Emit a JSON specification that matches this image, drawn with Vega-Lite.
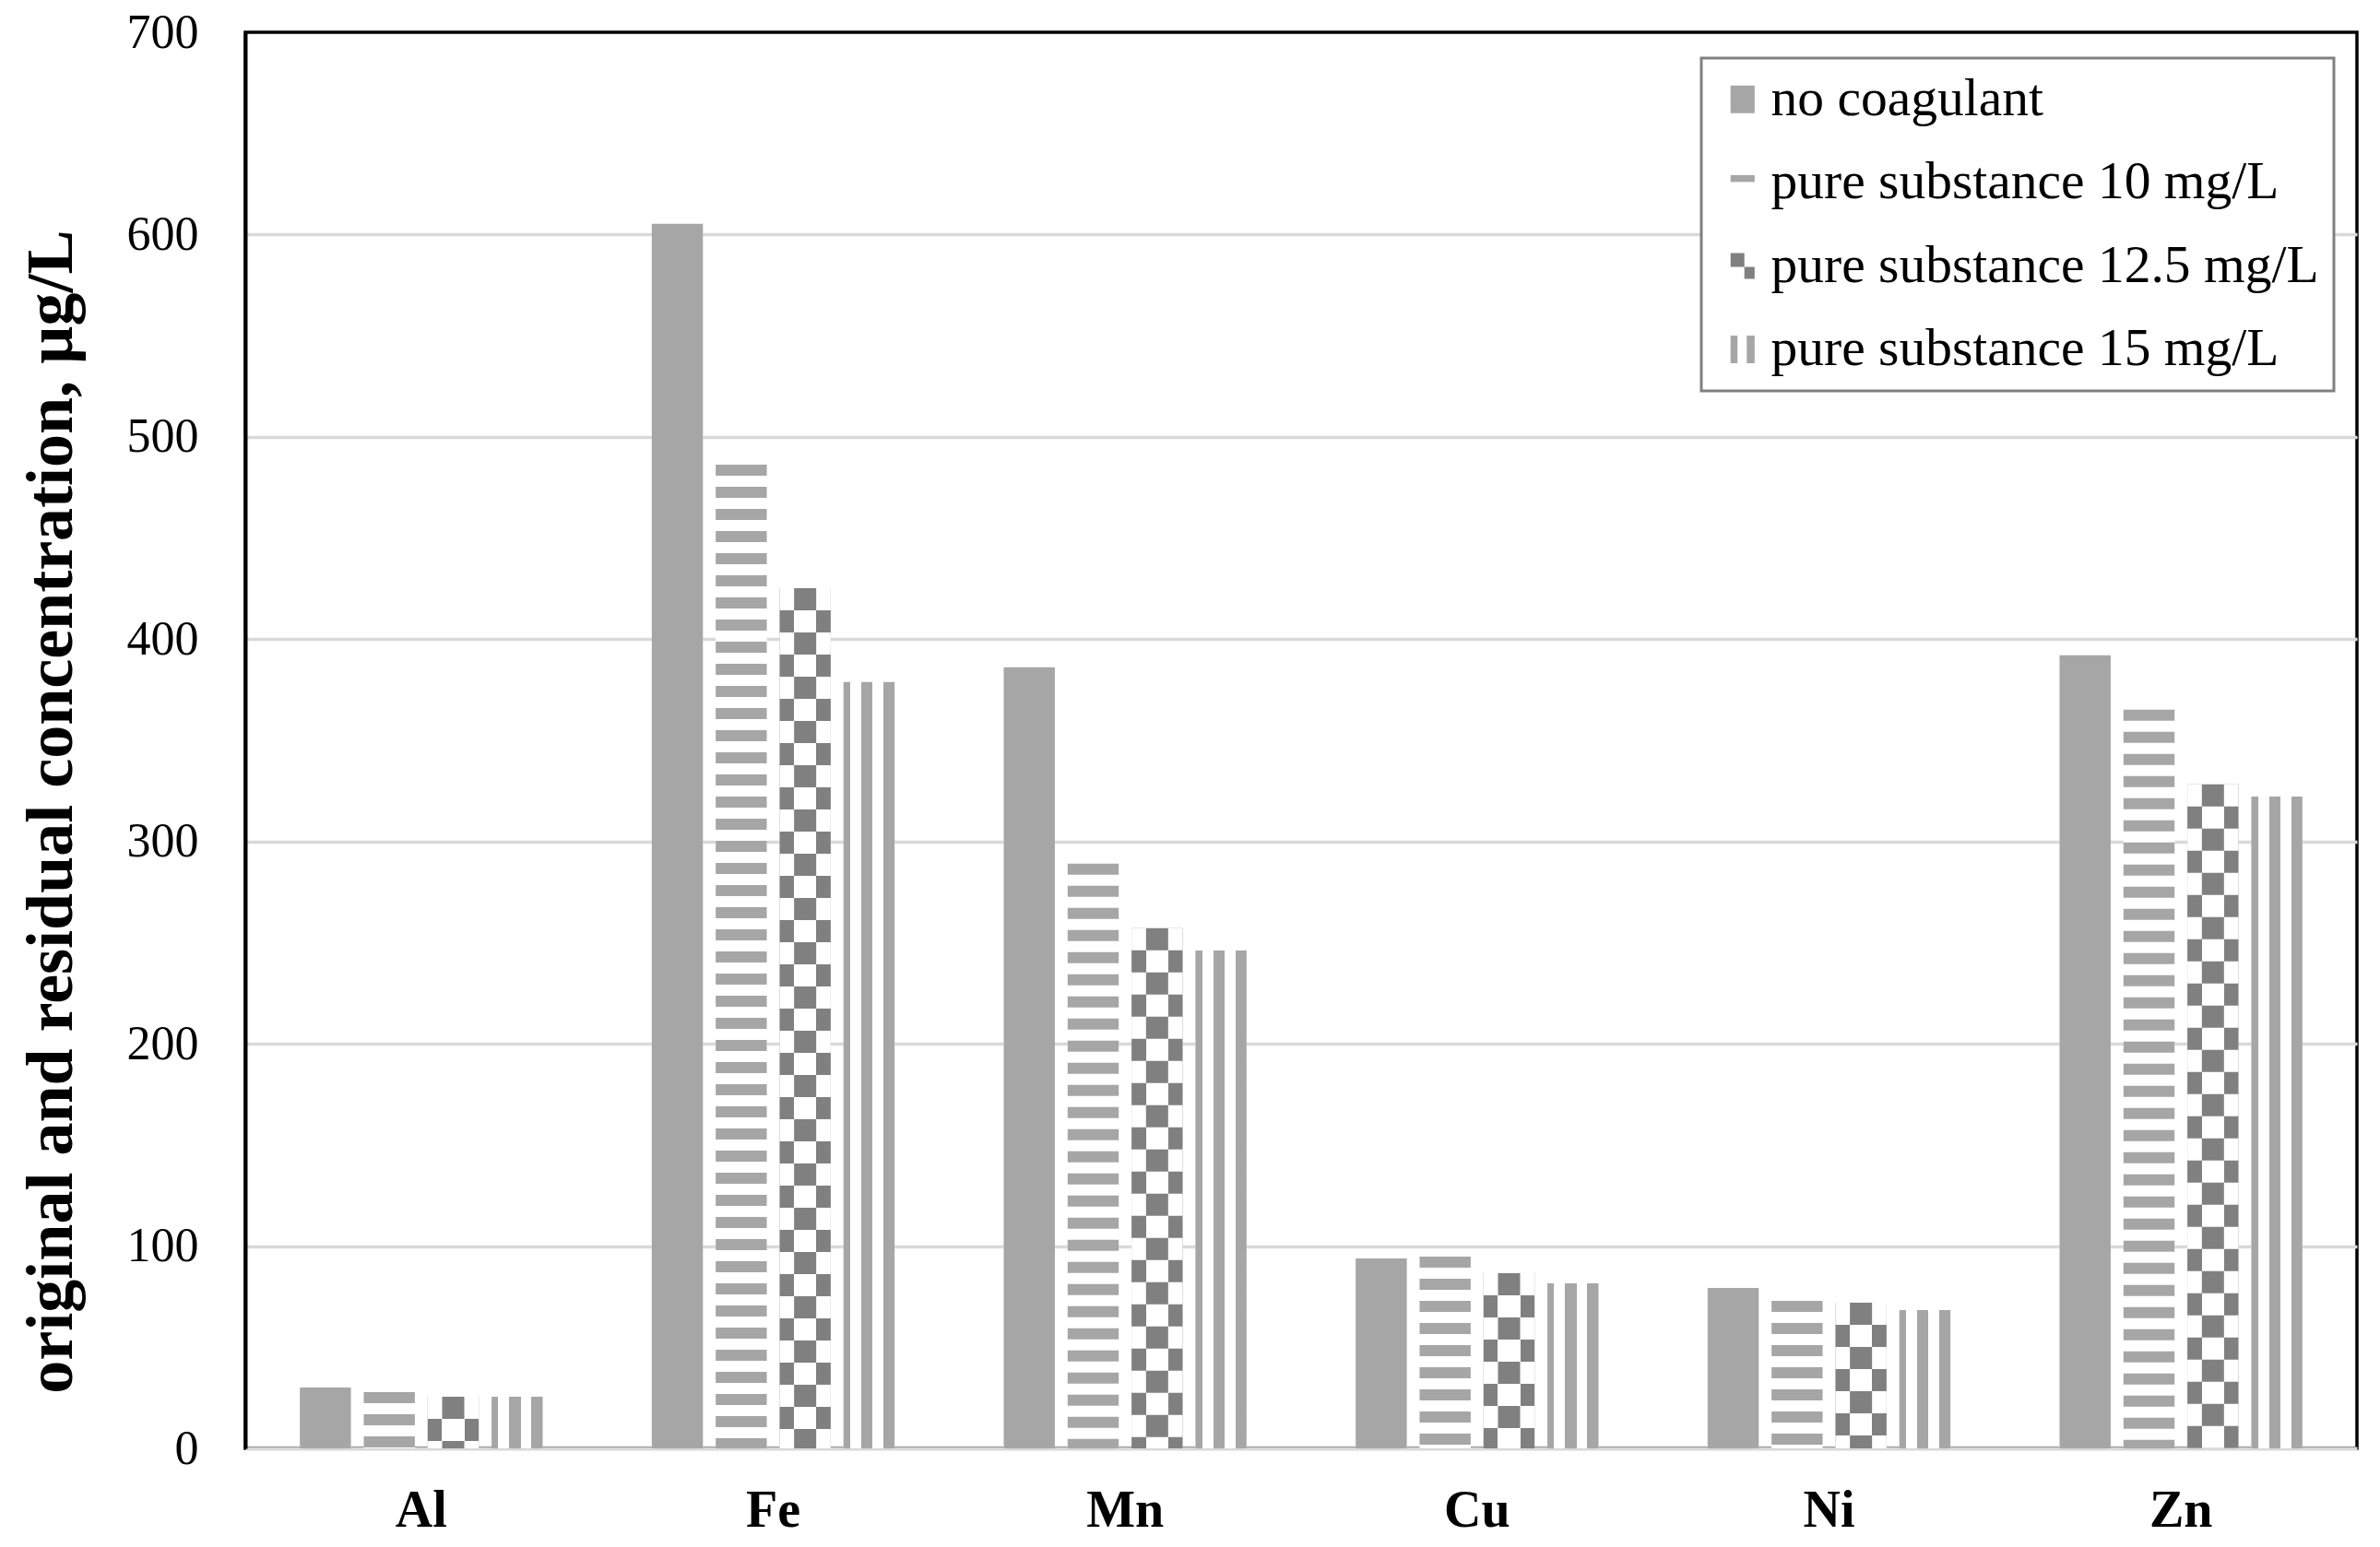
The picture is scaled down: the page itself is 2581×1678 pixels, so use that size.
{
  "$schema": "https://vega.github.io/schema/vega-lite/v6.json",
  "width": 2290,
  "height": 1536,
  "autosize": "none",
  "padding": {"left": 266, "top": 35, "right": 25, "bottom": 107},
  "background": "white",
  "config": {
    "view": {"stroke": "black", "strokeWidth": 3.5},
    "font": "Liberation Serif"
  },
  "data": {
    "values": [
      {"element": "Al", "series": "no coagulant", "value": 30.1},
      {"element": "Al", "series": "pure substance 10 mg/L", "value": 27.8},
      {"element": "Al", "series": "pure substance 12.5 mg/L", "value": 25.5},
      {"element": "Al", "series": "pure substance 15 mg/L", "value": 25.5},
      {"element": "Fe", "series": "no coagulant", "value": 605.3},
      {"element": "Fe", "series": "pure substance 10 mg/L", "value": 486.3},
      {"element": "Fe", "series": "pure substance 12.5 mg/L", "value": 425.2},
      {"element": "Fe", "series": "pure substance 15 mg/L", "value": 378.8},
      {"element": "Mn", "series": "no coagulant", "value": 386.1},
      {"element": "Mn", "series": "pure substance 10 mg/L", "value": 289},
      {"element": "Mn", "series": "pure substance 12.5 mg/L", "value": 257.1},
      {"element": "Mn", "series": "pure substance 15 mg/L", "value": 246.1},
      {"element": "Cu", "series": "no coagulant", "value": 93.9},
      {"element": "Cu", "series": "pure substance 10 mg/L", "value": 94.8},
      {"element": "Cu", "series": "pure substance 12.5 mg/L", "value": 86.6},
      {"element": "Cu", "series": "pure substance 15 mg/L", "value": 81.6},
      {"element": "Ni", "series": "no coagulant", "value": 79.3},
      {"element": "Ni", "series": "pure substance 10 mg/L", "value": 72.9},
      {"element": "Ni", "series": "pure substance 12.5 mg/L", "value": 72},
      {"element": "Ni", "series": "pure substance 15 mg/L", "value": 68.4},
      {"element": "Zn", "series": "no coagulant", "value": 392},
      {"element": "Zn", "series": "pure substance 10 mg/L", "value": 365.1},
      {"element": "Zn", "series": "pure substance 12.5 mg/L", "value": 328.2},
      {"element": "Zn", "series": "pure substance 15 mg/L", "value": 322.2}
    ]
  },
  "encoding": {
    "x": {
      "field": "element",
      "type": "nominal",
      "sort": ["Al", "Fe", "Mn", "Cu", "Ni", "Zn"],
      "scale": {"paddingInner": 0.31, "paddingOuter": 0.155},
      "axis": {
        "title": null,
        "labelAngle": 0,
        "labelFont": "Liberation Serif",
        "labelFontSize": 56,
        "labelFontWeight": "bold",
        "labelColor": "black",
        "labelPadding": 40,
        "ticks": false,
        "domainColor": "#d9d9d9",
        "domainWidth": 4
      }
    },
    "xOffset": {
      "field": "series",
      "type": "nominal",
      "scale": {
        "domain": ["no coagulant", "pure substance 10 mg/L", "pure substance 12.5 mg/L", "pure substance 15 mg/L"],
        "paddingInner": 0.2,
        "paddingOuter": 0
      }
    },
    "y": {
      "field": "value",
      "type": "quantitative",
      "scale": {"domain": [0, 700], "nice": false},
      "axis": {
        "title": "original and residual concentration, µg/L",
        "titleFont": "Liberation Serif",
        "titleFontSize": 72,
        "titleFontWeight": "bold",
        "titleColor": "black",
        "titleAngle": -90,
        "titleBaseline": "alphabetic",
        "titleAlign": "center",
        "titleX": -189,
        "titleY": 845,
        "values": [0, 100, 200, 300, 400, 500, 600, 700],
        "labelFont": "Liberation Serif",
        "labelFontSize": 52,
        "labelColor": "black",
        "labelPadding": 51,
        "ticks": false,
        "domainColor": "black",
        "domainWidth": 4,
        "gridWidth": 3.5,
        "gridColor": {
          "condition": {"test": "datum.value == 700 || datum.value == 0", "value": "transparent"},
          "value": "#d9d9d9"
        }
      }
    }
  },
  "layer": [
    {
      "mark": {"type": "bar", "fill": "white", "stroke": null}
    },
    {
      "transform": [{"filter": "datum.series == 'no coagulant'"}],
      "mark": {"type": "bar", "fill": "#a6a6a6", "stroke": null}
    },
    {
      "transform": [{"filter": "datum.series == 'pure substance 10 mg/L'"}],
      "mark": {"type": "rule", "color": "#a6a6a6", "strokeWidth": 55.4, "strokeDash": [12, 12], "strokeCap": "butt"},
      "encoding": {"y2": {"datum": 0}}
    },
    {
      "transform": [{"filter": "datum.series == 'pure substance 12.5 mg/L'"}],
      "mark": {
        "type": "bar",
        "stroke": null,
        "fill": {
          "gradient": "linear",
          "x1": 0, "y1": 0, "x2": 1, "y2": 0,
          "stops": [
            {"offset": 0, "color": "#808080"},
            {"offset": 0.283, "color": "#808080"},
            {"offset": 0.283, "color": "white"},
            {"offset": 0.717, "color": "white"},
            {"offset": 0.717, "color": "#808080"},
            {"offset": 1, "color": "#808080"}
          ]
        }
      }
    },
    {
      "transform": [{"filter": "datum.series == 'pure substance 12.5 mg/L'"}],
      "mark": {"type": "rule", "color": "white", "strokeWidth": 55.4, "strokeDash": [24, 24], "strokeCap": "butt"},
      "encoding": {"y2": {"datum": 0}}
    },
    {
      "transform": [{"filter": "datum.series == 'pure substance 12.5 mg/L'"}],
      "mark": {"type": "rule", "color": "#808080", "strokeWidth": 24, "strokeDash": [24, 24], "strokeCap": "butt"},
      "encoding": {"y2": {"datum": 0}}
    },
    {
      "transform": [{"filter": "datum.series == 'pure substance 15 mg/L'"}],
      "mark": {
        "type": "bar",
        "stroke": null,
        "fill": {
          "gradient": "linear",
          "x1": 0, "y1": 0, "x2": 1, "y2": 0,
          "stops": [
            {"offset": 0, "color": "#a6a6a6"},
            {"offset": 0.13, "color": "#a6a6a6"},
            {"offset": 0.13, "color": "white"},
            {"offset": 0.35, "color": "white"},
            {"offset": 0.35, "color": "#a6a6a6"},
            {"offset": 0.57, "color": "#a6a6a6"},
            {"offset": 0.57, "color": "white"},
            {"offset": 0.78, "color": "white"},
            {"offset": 0.78, "color": "#a6a6a6"},
            {"offset": 1, "color": "#a6a6a6"}
          ]
        }
      }
    },
    {
      "transform": [{"filter": "datum.value < 0"}],
      "mark": {"type": "point", "filled": true, "opacity": 1},
      "encoding": {
        "color": {
          "field": "series",
          "type": "nominal",
          "scale": {
            "domain": ["no coagulant", "pure substance 10 mg/L", "pure substance 12.5 mg/L", "pure substance 15 mg/L"],
            "range": ["#a6a6a6", "#a6a6a6", "#808080", "#a6a6a6"]
          },
          "legend": {
            "title": null,
            "orient": "none",
            "legendX": 1579,
            "legendY": 28,
            "fillColor": "white",
            "strokeColor": "#808080",
            "padding": 16,
            "labelFont": "Liberation Serif",
            "labelFontSize": 57.5,
            "labelColor": "black",
            "labelLimit": 1000,
            "labelOffset": 2,
            "rowPadding": 31.4,
            "symbolSize": 900,
            "symbolOpacity": 1,
            "symbolStrokeWidth": 0,
            "encode": {"legend": {"update": {"strokeWidth": {"value": 3}}}}
          }
        },
        "shape": {
          "field": "series",
          "type": "nominal",
          "scale": {
            "domain": ["no coagulant", "pure substance 10 mg/L", "pure substance 12.5 mg/L", "pure substance 15 mg/L"],
            "range": [
              "M-0.87,-1H0.87V1H-0.87Z",
              "M-0.87,-0.55H0.87V-0.05H-0.87Z",
              "M-0.87,-0.93H0.13V0.07H-0.87ZM0.13,0.07H0.87V0.93H0.13Z",
              "M-0.87,-1H-0.37V1H-0.87ZM0.3,-1H0.87V1H0.3Z"
            ]
          }
        }
      }
    }
  ]
}
